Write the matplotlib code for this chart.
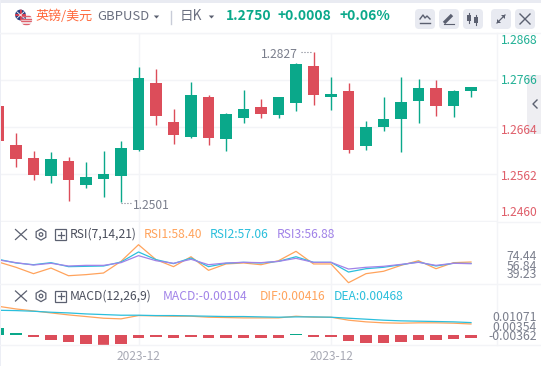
''' GBPUSD daily candles with RSI and MACD panels '''

import numpy as np
import matplotlib
matplotlib.use('Agg')
import matplotlib.pyplot as plt
from matplotlib.patches import Circle, FancyBboxPatch, Rectangle, RegularPolygon

plt.rcParams['font.family'] = ['Noto Sans CJK SC', 'DejaVu Sans']

W, H = 541, 366

opens = [1.2710, 1.2625, 1.2597, 1.2558, 1.2590, 1.2538, 1.2551, 1.2558, 1.2614, 1.2759,
         1.2675, 1.2642, 1.2729, 1.2638, 1.2684, 1.2707, 1.2690, 1.2716, 1.2796, 1.2729,
         1.2742, 1.2623, 1.2664, 1.2681, 1.2720, 1.2749, 1.2710, 1.2742]
highs = [1.2716, 1.2651, 1.2612, 1.2610, 1.2599, 1.2588, 1.2612, 1.2634, 1.2794, 1.2790,
         1.2703, 1.2762, 1.2733, 1.2694, 1.2744, 1.2725, 1.2729, 1.2803, 1.2827, 1.2773,
         1.2759, 1.2677, 1.2729, 1.2773, 1.2768, 1.2766, 1.2744, 1.2750]
lows = [1.2625, 1.2577, 1.2549, 1.2542, 1.2503, 1.2531, 1.2512, 1.2501, 1.2612, 1.2668,
        1.2627, 1.2640, 1.2625, 1.2612, 1.2673, 1.2684, 1.2684, 1.2699, 1.2712, 1.2701,
        1.2608, 1.2614, 1.2655, 1.2610, 1.2673, 1.2688, 1.2686, 1.2729]
closes = [1.2634, 1.2595, 1.2560, 1.2595, 1.2549, 1.2555, 1.2562, 1.2618, 1.2770, 1.2688,
          1.2647, 1.2733, 1.2640, 1.2692, 1.2703, 1.2692, 1.2729, 1.2801, 1.2733, 1.2736,
          1.2614, 1.2664, 1.2681, 1.2718, 1.2749, 1.2710, 1.2742, 1.2750]

rsi1 = [58.4, 53.5, 47.6, 52.8, 45.7, 46.7, 48.2, 59.0, 74.44, 60.6, 54.1, 63.3, 50.7, 56.6,
        57.5, 55.9, 59.6, 68.3, 56.6, 56.6, 39.23, 47.6, 49.8, 55.3, 59.6, 52.2, 57.8, 58.40]
rsi2 = [60.9, 57.5, 55.9, 57.8, 54.1, 54.4, 54.7, 58.4, 67.7, 60.6, 56.9, 62.1, 54.1, 57.2,
        58.1, 57.5, 59.0, 63.3, 58.1, 58.1, 49.1, 52.2, 53.5, 55.9, 58.4, 54.7, 57.2, 57.06]
rsi3 = [60.3, 57.8, 55.6, 57.2, 54.7, 55.3, 55.3, 57.8, 64.3, 59.6, 57.2, 60.9, 55.9, 57.5,
        58.1, 57.8, 59.0, 61.8, 58.1, 58.1, 51.9, 53.5, 54.4, 56.2, 58.1, 55.3, 57.2, 56.88]

dif = [0.01071, 0.00973, 0.00900, 0.00826, 0.00753, 0.00692, 0.00630, 0.00606, 0.00728, 0.00716,
       0.00704, 0.00704, 0.00667, 0.00655, 0.00642, 0.00642, 0.00642, 0.00704, 0.00667, 0.00667,
       0.00557, 0.00495, 0.00459, 0.00446, 0.00459, 0.00459, 0.00446, 0.00416]
dea = [0.00924, 0.00912, 0.00888, 0.00851, 0.00826, 0.00789, 0.00765, 0.00741, 0.00741, 0.00728,
       0.00728, 0.00716, 0.00704, 0.00692, 0.00692, 0.00679, 0.00667, 0.00679, 0.00679, 0.00667,
       0.00630, 0.00594, 0.00557, 0.00532, 0.00520, 0.00508, 0.00495, 0.00468]
hist = [0.00263, 0.00080, -0.00050, -0.00179, -0.00253, -0.00327, -0.00362, -0.00327, -0.00105, -0.00050,
        -0.00105, -0.00050, -0.00105, -0.00105, -0.00105, -0.00105, -0.00105, 0.00050, -0.00050, -0.00050,
        -0.00216, -0.00290, -0.00290, -0.00253, -0.00179, -0.00179, -0.00142, -0.00104]

price_ticks = [1.2868, 1.2766, 1.2664, 1.2562, 1.2460]
price_labels = ['1.2868', '1.2766', '1.2664', '1.2562', '1.2460']
date_ticks = [8, 19]
date_labels = ['2023-12', '2023-12']
rsi_labels = ['74.44', '56.84', '39.23']
macd_labels = ['0.01071', '0.00354', '-0.00362']

GREEN = '#0aa88a'
RED = '#dc4d5a'
ORANGE = '#ffa35c'
CYAN = '#2bbfdc'
PURPLE = '#a183e8'
GRID = '#f3f4f7'
GRAY = '#7a7e8c'
DARK = '#5b6070'

fig = plt.figure(figsize=(W / 100, H / 100), dpi=100, facecolor='white')


def panel(top, bottom, ylim):
    ax = fig.add_axes([0, 1 - bottom / H, 497 / W, (bottom - top) / H])
    ax.set_xlim(1.5 / 17.5, 498.5 / 17.5)
    ax.set_ylim(*ylim)
    ax.set_xticks(date_ticks)
    ax.set_xticklabels([])
    ax.tick_params(length=0, labelleft=False)
    ax.set_yticks([])
    ax.grid(axis='x', color=GRID, linewidth=1)
    ax.set_axisbelow(True)
    for s in ax.spines.values():
        s.set_visible(False)
    return ax


x = np.arange(len(closes))
colors = [GREEN if c >= o else RED for o, c in zip(opens, closes)]

# Candles
ax1 = panel(33, 222, (1.24578, 1.2868))
ax1.set_yticks(price_ticks)
ax1.set_yticklabels([])
ax1.grid(axis='y', color=GRID, linewidth=1)
ax1.vlines(x, lows, highs, colors=colors, linewidth=1)
ax1.bar(x, np.abs(np.array(closes) - np.array(opens)), width=0.63,
        bottom=np.minimum(opens, closes), color=colors)

# RSI
ax2 = panel(222, 284, (38.02, 95.48))
ax2.plot(x, rsi1, color=ORANGE, linewidth=0.9)
ax2.plot(x, rsi2, color=CYAN, linewidth=0.9)
ax2.plot(x, rsi3, color=PURPLE, linewidth=0.9)

# MACD
ax3 = panel(284, 345, (-0.00362, 0.01897))
ax3.plot(x, dif, color=ORANGE, linewidth=0.9)
ax3.plot(x, dea, color=CYAN, linewidth=0.9)
ax3.bar(x, hist, width=0.66, color=[GREEN if h > 0 else RED for h in hist])
ax3.set_xticklabels(date_labels, fontsize=8.6, color='#a8aab5')
ax3.tick_params(axis='x', pad=3.5)

# Everything around the plots is drawn in pixel coordinates on one overlay
ov = fig.add_axes([0, 0, 1, 1], facecolor='none')
ov.set_xlim(0, W)
ov.set_ylim(H, 0)
ov.axis('off')

ov.add_patch(Rectangle((0, 0), W, 3, color='#e9ebf2', linewidth=0))
ov.add_patch(Rectangle((0, 0), 1.2, H, color='#eceef5', linewidth=0))
for yy in [33, 284, 345]:
    ov.plot([0, W], [yy, yy], color=GRID, linewidth=1)
ov.plot([497, 497], [33, 345], color=GRID, linewidth=1)
ov.plot([497, W], [222, 222], color=GRID, linewidth=1)

# Flags
uk = Circle((20.5, 15), 5.4, color='#2c3f80', linewidth=0)
ov.add_patch(uk)
for seg in [([15, 26], [15, 15]), ([20.5, 20.5], [10, 20])]:
    ov.plot(*seg, color='#e0404f', linewidth=1.3, clip_path=uk)
for seg in [([16, 25], [11, 19]), ([16, 25], [19, 11])]:
    ov.plot(*seg, color='white', linewidth=0.6, clip_path=uk)
us = Circle((26.5, 20), 5.6, color='#f4f4f6', linewidth=0)
ov.add_patch(us)
for yy in [16, 18.5, 21, 23.5]:
    ov.plot([20, 33], [yy, yy], color='#e0606c', linewidth=1, clip_path=us)
ov.add_patch(Rectangle((21, 14.5), 5, 4.5, color='#5a6a9c', linewidth=0, clip_path=us))

# Header texts
ov.text(35, 16, '英镑/美元', fontsize=9.4, color='#ff6a3d', va='center')
ov.text(97, 17, 'GBPUSD', fontsize=9.4, color='#6b7080', va='center')
ov.text(180, 16, '日K', fontsize=9.8, color='#6b7080', va='center')
ov.text(225.5, 16, '1.2750', fontsize=10, color=GREEN, va='center', fontweight='bold')
ov.text(278, 16, '+0.0008', fontsize=10, color=GREEN, va='center', fontweight='bold')
ov.text(339, 16, '+0.06%', fontsize=10, color=GREEN, va='center', fontweight='bold')
for cx in [156.5, 211.5]:
    ov.fill([cx - 2.7, cx + 2.7, cx], [15.5, 15.5, 18.5], color=DARK, linewidth=0)
ov.plot([170.5, 170.5], [11, 24], color='#c8ccd8', linewidth=1)

# Toolbar buttons
for bx in [415, 439, 463, 491, 515]:
    ov.add_patch(FancyBboxPatch((bx, 9), 20, 20, boxstyle='round,pad=0,rounding_size=4', linewidth=0,
                                facecolor='#e8eaf1'))
ov.plot([420, 423, 425, 427, 430], [19, 15, 18, 16, 19], color=DARK, linewidth=1)
ov.plot([420, 430], [23, 23], color=DARK, linewidth=1)
ov.plot([444, 452], [23, 15], color=DARK, linewidth=2.4, solid_capstyle='butt')
ov.plot([444, 454], [24, 24], color=DARK, linewidth=0.8)
for cx, y0, y1 in [(469, 15, 21), (476, 17, 23)]:
    ov.plot([cx, cx], [y0 - 2, y1 + 2], color=DARK, linewidth=0.8)
    ov.add_patch(Rectangle((cx - 2, y0), 4, y1 - y0, color=DARK, linewidth=0))
ov.plot([497, 505], [23, 15], color=DARK, linewidth=0.9)
ov.fill([497, 497, 501], [23, 19, 23], color=DARK, linewidth=0)
ov.fill([505, 505, 501], [15, 19, 15], color=DARK, linewidth=0)
ov.plot([520, 530], [14, 24], color=DARK, linewidth=1)
ov.plot([520, 530], [24, 14], color=DARK, linewidth=1)

# Side handle
ov.add_patch(Rectangle((527, 75), 14, 59, color='#eeeef2', linewidth=0))
ov.plot([537, 533, 537], [100, 104, 108], color=DARK, linewidth=1)

# Price labels, the first two sit above the close and are green
label_y = [41, 81, 130, 176, 213]
for lab, ly, col in zip(price_labels, label_y, [GREEN, GREEN, RED, RED, RED]):
    ov.text(501, ly, lab, fontsize=8.7, color=col, va='center', alpha=0.9)

for lab, ly in zip(rsi_labels, [256, 266, 275]):
    ov.text(537, ly, lab, fontsize=8.8, color=GRAY, va='center', ha='right')
for lab, ly in zip(macd_labels, [317.5, 327.5, 337]):
    ov.text(537, ly, lab, fontsize=8.8, color=GRAY, va='center', ha='right')

# High and low markers
ov.text(298, 54, '1.2827', fontsize=8.7, color=GRAY, va='center', ha='right')
ov.plot([301, 312], [51.5, 51.5], color=GRAY, linewidth=0.8, linestyle=':')
ov.text(133, 205.5, '1.2501', fontsize=8.7, color=GRAY, va='center')
ov.plot([121, 132], [202.7, 202.7], color=GRAY, linewidth=0.8, linestyle=':')

# Indicator headers
for yc in [234.5, 296]:
    ov.plot([15.5, 26.5], [yc - 5, yc + 5], color=DARK, linewidth=0.9)
    ov.plot([15.5, 26.5], [yc + 5, yc - 5], color=DARK, linewidth=0.9)
    ov.add_patch(RegularPolygon((41, yc), 6, radius=5.6, fill=False, edgecolor=DARK, linewidth=0.9))
    ov.add_patch(Circle((41, yc), 1.8, fill=False, edgecolor=DARK, linewidth=0.9))
    ov.add_patch(Rectangle((55, yc - 5.5), 11, 11, fill=False, edgecolor=DARK, linewidth=0.9))
    ov.plot([57.5, 63.5], [yc, yc], color=DARK, linewidth=0.9)
    ov.plot([60.5, 60.5], [yc - 3, yc + 3], color=DARK, linewidth=0.9)

ov.text(69.5, 234.5, 'RSI(7,14,21)', fontsize=8.7, color='#4a4e5c', va='center')
ov.text(144, 234.5, 'RSI1:58.40', fontsize=8.7, color=ORANGE, va='center')
ov.text(210, 234.5, 'RSI2:57.06', fontsize=8.7, color=CYAN, va='center')
ov.text(277, 234.5, 'RSI3:56.88', fontsize=8.7, color=PURPLE, va='center')
ov.text(70, 296, 'MACD(12,26,9)', fontsize=8.7, color='#4a4e5c', va='center')
ov.text(163, 296, 'MACD:-0.00104', fontsize=8.7, color=PURPLE, va='center')
ov.text(260, 296, 'DIF:0.00416', fontsize=8.7, color=ORANGE, va='center')
ov.text(334, 296, 'DEA:0.00468', fontsize=8.7, color=CYAN, va='center')

fig.savefig('out.png', dpi=100)
